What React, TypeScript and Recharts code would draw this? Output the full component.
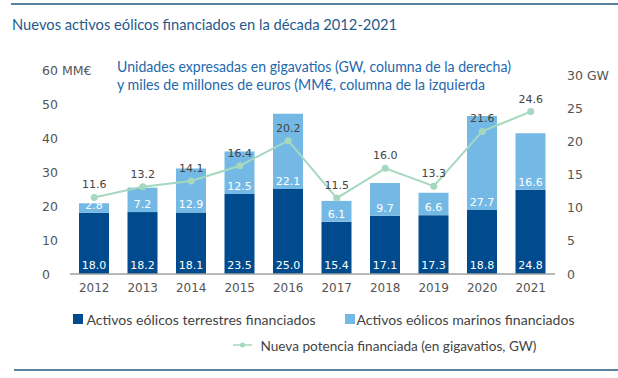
import React from 'react';
import { ComposedChart, Bar, Line, XAxis, YAxis, LabelList } from 'recharts';

const years = ['2012', '2013', '2014', '2015', '2016', '2017', '2018', '2019', '2020', '2021'];
const landValues = [18.0, 18.2, 18.1, 23.5, 25.0, 15.4, 17.1, 17.3, 18.8, 24.8];
const marineValues = [2.8, 7.2, 12.9, 12.5, 22.1, 6.1, 9.7, 6.6, 27.7, 16.6];
const gwValues = [11.6, 13.2, 14.1, 16.4, 20.2, 11.5, 16.0, 13.3, 21.6, 24.6];
const leftTicks = [0, 10, 20, 30, 40, 50, 60];
const rightTicks = [0, 5, 10, 15, 20, 25, 30];

const seriesNames = {
  land: 'Activos eólicos terrestres financiados',
  marine: 'Activos eólicos marinos financiados',
  gw: 'Nueva potencia financiada (en gigavatios, GW)',
};
const title = 'Nuevos activos eólicos financiados en la década 2012-2021';
const subtitle1 = 'Unidades expresadas en gigavatios (GW, columna de la derecha)';
const subtitle2 = 'y miles de millones de euros (MM€, columna de la izquierda';

const COLORS = { land: '#004b8d', marine: '#74b9e6', gw: '#a5d8bf', rule: '#1f5a7a' };
const TICK_FONT = '"DejaVu Sans", sans-serif';
const TEXT_FONT = 'Lato, "Open Sans", sans-serif';

const data = years.map((y, i) => ({ year: y, land: landValues[i], marine: marineValues[i], gw: gwValues[i] }));

const fmt = (v: any) => Number(v).toFixed(1);

const LeftTick = (props: any) => {
  const { y, payload } = props;
  const v = payload.value;
  return (
    <text x={42} y={y} textAnchor="start" dominantBaseline="central" fontSize={12.5} fill="#555" fontFamily={TICK_FONT}>
      {v === 60 ? '60 MM€' : String(v)}
    </text>
  );
};

const RightTick = (props: any) => {
  const { y, payload } = props;
  const v = payload.value;
  return (
    <text x={567} y={y} textAnchor="start" dominantBaseline="central" fontSize={12.5} fill="#555" fontFamily={TICK_FONT}>
      {v === 30 ? '30 GW' : String(v)}
    </text>
  );
};

export default function App() {
  return (
    <div style={{ position: 'absolute', left: 0, top: 0, width: 618, height: 378, background: '#fff' }}>
      <ComposedChart
        width={618}
        height={378}
        data={data}
        margin={{ top: 70, right: 0, left: 0, bottom: 74 }}
        barCategoryGap={0}
      >
        <XAxis
          dataKey="year"
          height={30}
          tickLine={false}
          tickSize={0}
          tickMargin={9}
          axisLine={{ stroke: '#a0a0a0', strokeWidth: 1.5 }}
          tick={{ fontSize: 12, fill: '#555', fontFamily: TICK_FONT }}
          interval={0}
        />
        <YAxis
          yAxisId="left"
          width={70}
          domain={[0, 60]}
          ticks={leftTicks}
          axisLine={false}
          tickLine={false}
          tick={<LeftTick />}
          interval={0}
        />
        <YAxis
          yAxisId="right"
          orientation="right"
          width={63}
          domain={[0, 30.9]}
          ticks={rightTicks}
          axisLine={false}
          tickLine={false}
          tick={<RightTick />}
          interval={0}
          allowDataOverflow
        />
        <Bar yAxisId="left" dataKey="land" stackId="a" fill={COLORS.land} barSize={30} isAnimationActive={false}>
          <LabelList dataKey="land" position="insideBottom" offset={5} fill="#fff" fontSize={11} fontFamily={TICK_FONT} formatter={fmt} />
        </Bar>
        <Bar yAxisId="left" dataKey="marine" stackId="a" fill={COLORS.marine} barSize={30} isAnimationActive={false}>
          <LabelList dataKey="marine" position="insideBottom" offset={4} fill="#fff" fontSize={11} fontFamily={TICK_FONT} formatter={fmt} />
        </Bar>
        <Line
          yAxisId="right"
          dataKey="gw"
          stroke={COLORS.gw}
          strokeWidth={2}
          dot={{ r: 3.5, fill: COLORS.gw, stroke: COLORS.gw, strokeWidth: 0 }}
          isAnimationActive={false}
        >
          <LabelList dataKey="gw" position="top" offset={9} fill="#444" fontSize={11} fontFamily={TICK_FONT} formatter={fmt} />
        </Line>
      </ComposedChart>
      <svg width={618} height={378} style={{ position: 'absolute', left: 0, top: 0, pointerEvents: 'none' }}>
        <line x1={11} y1={4} x2={618} y2={4} stroke={COLORS.rule} strokeWidth={1.5} />
        <text x={12} y={24} dominantBaseline="central" fontSize={15} fill="#1f5a8c" fontFamily={TEXT_FONT} textLength={385} lengthAdjust="spacingAndGlyphs">
          {title}
        </text>
        <text x={117} y={66.7} dominantBaseline="central" fontSize={14.5} fill="#2468ac" fontFamily={TEXT_FONT} textLength={394} lengthAdjust="spacingAndGlyphs">
          {subtitle1}
        </text>
        <text x={117} y={84.3} dominantBaseline="central" fontSize={14.5} fill="#2468ac" fontFamily={TEXT_FONT} textLength={368} lengthAdjust="spacingAndGlyphs">
          {subtitle2}
        </text>
        <rect x={73} y={314} width={10} height={10} fill={COLORS.land} />
        <text x={86.5} y={319} dominantBaseline="central" fontSize={14} fill="#444" fontFamily={TEXT_FONT} textLength={229} lengthAdjust="spacingAndGlyphs">
          {seriesNames.land}
        </text>
        <rect x={345} y={314} width={10} height={10} fill={COLORS.marine} />
        <text x={356.5} y={319} dominantBaseline="central" fontSize={14} fill="#444" fontFamily={TEXT_FONT} textLength={218} lengthAdjust="spacingAndGlyphs">
          {seriesNames.marine}
        </text>
        <line x1={233} y1={345} x2={252} y2={345} stroke={COLORS.gw} strokeWidth={1.5} />
        <circle cx={242.5} cy={345} r={2.5} fill={COLORS.gw} />
        <text x={260.5} y={345} dominantBaseline="central" fontSize={14} fill="#444" fontFamily={TEXT_FONT} textLength={276} lengthAdjust="spacingAndGlyphs">
          {seriesNames.gw}
        </text>
        <line x1={14} y1={370} x2={618} y2={370} stroke={COLORS.rule} strokeWidth={1.5} />
      </svg>
    </div>
  );
}
